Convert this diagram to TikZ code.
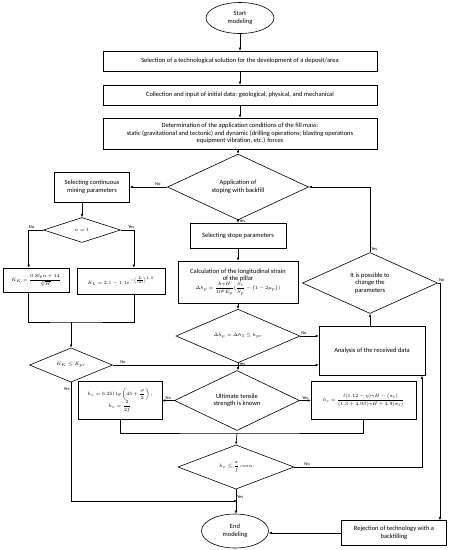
\documentclass[tikz,border=0pt]{standalone}
\usepackage{amsmath}
\usepackage{graphicx}
\usepackage{fontspec}
\setmainfont{Carlito}
\usetikzlibrary{arrows.meta,shapes.geometric}
\newcommand{\smallfnt}{\fontsize{6.5pt}{7.5pt}\selectfont}
\newcommand{\fml}[1]{\scalebox{0.8}{$\displaystyle #1$}}

\begin{document}
\begin{tikzpicture}[>={Latex[length=3pt,width=2.6pt]}, x=1pt, y=-1pt, line width=0.6pt,
    box/.style={draw, rectangle, align=center, inner sep=1pt, font=\smallfnt},
    dec/.style={draw, diamond, align=center, inner sep=0pt, font=\smallfnt},
    term/.style={draw, ellipse, align=center, inner sep=0pt, font=\smallfnt},
    lbl/.style={font=\fontsize{4.5pt}{5pt}\selectfont, inner sep=1pt}]
        \useasboundingbox (0,0) rectangle (450,550);

        % main column
        \node[term, minimum width=68pt, minimum height=31pt] (start) at (240,18) {Start\\modeling};
        \node[box, minimum width=274pt, minimum height=20pt] (select) at (240,61) {Selection of a technological solution for the development of a deposit/area};
        \node[box, minimum width=274pt, minimum height=20pt] (collect) at (240,95) {Collection and input of initial data: geological, physical, and mechanical};
        \node[box, minimum width=274pt, minimum height=31pt] (determ) at (240,133.5) {Determination of the application conditions of the fill mass:\\static (gravitational and tectonic) and dynamic (drilling operations; blasting operations\\equipment vibration, etc.) forces};
        \node[dec, minimum width=141pt, minimum height=48pt] (stoping) at (238,187) {Application of\\stoping with backfill};
        \node[box, minimum width=96pt, minimum height=25pt] (stope) at (238,235.5) {Selecting stope parameters};
        \node[box, minimum width=120pt, minimum height=42pt] (strain) at (238,282) {Calculation of the longitudinal strain\\of the pillar\\
            \fml{\Delta h_p=\frac{h\gamma H}{10^6E_p}(\frac{S_r}{S_p}-\left(1-2\mu_p\right))}};
        \node[dec, minimum width=124pt, minimum height=38pt] (dhcheck) at (238,336) {\fml{\Delta h_p=\Delta h_3\leq h_{pr}}};
        \node[dec, minimum width=125pt, minimum height=47pt] (tensile) at (237,400.5) {Ultimate tensile\\strength is known};
        \node[dec, minimum width=116pt, minimum height=39pt] (hccheck) at (236,467) {\fml{h_c\leq\frac{a}{f}\,cos\alpha}};
        \node[term, minimum width=67pt, minimum height=34pt] (end) at (235,531) {End\\modeling};

        % left branch
        \node[box, minimum width=75pt, minimum height=30pt] (contin) at (92,187) {Selecting continuous\\mining parameters};
        \node[dec, minimum width=77pt, minimum height=25pt] (none) at (82,230) {\fml{n=1}};
        \node[box, minimum width=66pt, minimum height=24pt] (kfirst) at (36,280) {\fml{K_K=\frac{0.8l_b n+14}{\sqrt[3]{H}}}};
        \node[box, minimum width=88pt, minimum height=26pt] (ksecond) at (121,281) {\fml{K_k=2.1-1.1e^{-\left(\frac{L}{50}\right)^{1.5}}}};
        \node[dec, minimum width=83pt, minimum height=30pt] (kcheck) at (71,365) {\fml{K_K\leq K_{pr}}};
        \node[box, minimum width=84pt, minimum height=38pt] (hcleft) at (120,400.5) {\fml{h_c=0.25l\,tg\left(45+\frac{\varphi}{2}\right);}\\[-1pt]\fml{h_c=\frac{2}{2f}}};

        % right branch
        \node[box, minimum width=106pt, minimum height=49pt] (analysis) at (372,351) {Analysis of the received data};
        \node[dec, minimum width=135pt, minimum height=61pt] (change) at (370,283) {It is possible to\\change the\\parameters};
        \node[box, minimum width=105pt, minimum height=38pt] (hcright) at (363.5,400.5) {\fml{h_c=\frac{l(1.12-\eta)\gamma H-(\sigma_t)}{(1.3+4.9\beta)\gamma H+4.9(\sigma_t)}}};
        \node[box, minimum width=105pt, minimum height=25pt] (reject) at (394,533) {Rejection of technology with a\\backfilling};

        \coordinate (mergeK) at (71,322);
        \coordinate (mergeH) at (237,433);
        \coordinate (joinEnd) at (237,501);
        \coordinate (rightrail) at (422,467);
        \coordinate (rejrail) at (440,283);

        \draw[->] (start) -- (select);
        \draw[->] (select) -- (collect);
        \draw[->] (collect) -- (determ);
        \draw[->] (determ.south -| stoping.north) -- (stoping.north);
        \draw[->] (stoping.west) -- node[lbl, above, pos=0.25] (lno1) {No} (stoping.west -| contin.east);
        \draw[->] (stoping.south) -- node[lbl, right, pos=0.35] (lyes1) {Yes} (stoping.south |- stope.north);
        \draw[->] (stope) -- (strain);
        \draw[->] (strain) -- (dhcheck);
        \draw[->] (dhcheck.east) -- node[lbl, above, pos=0.2] (lno2) {No} (dhcheck.east -| analysis.west);
        \draw[->] (dhcheck.south) -- node[lbl, right, pos=0.2] (lyes2) {Yes} (dhcheck.south |- tensile.north);
        \draw[->] (tensile.west) -- node[lbl, above] (lno3) {No} (hcleft.east);
        \draw[->] (tensile.east) -- node[lbl, above] (lyes3) {Yes} (hcright.west);
        \draw (hcleft.south) |- (mergeH) -| (hcright.south);
        \draw[->] (mergeH) -- (hccheck.north);
        \draw[->] (hccheck.east) -- node[lbl, above, pos=0.1] (lno4) {No} (rightrail) -- (rightrail |- analysis.south);
        \draw[->] (hccheck.south) -- node[lbl, right, pos=0.3] (lyes4) {Yes} (hccheck.south |- end.north);

        \draw[->] (contin.south -| none.north) -- (none.north);
        \draw[->] (none.west) -- node[lbl, above, pos=0.8] (lno5) {No} ++(-14.5,0) coordinate (nw) -- (nw |- kfirst.north);
        \draw[->] (none.east) -- node[lbl, above, pos=0.8] (lyes5) {Yes} ++(13,0) coordinate (ne) -- (ne |- ksecond.north);
        \draw (nw |- kfirst.south) |- (mergeK) -| (ne |- ksecond.south);
        \draw[->] (mergeK) -- (kcheck.north);
        \draw[->] (kcheck.east) -- node[lbl, above, pos=0.03, anchor=south west] (lno6) {No} (kcheck.east -| analysis.west);
        \draw[->] (kcheck.south) |- node[lbl, left, pos=0.03] (lyes6) {Yes} (joinEnd);

        \draw[->] (analysis.north -| change.south) -- (change.south);
        \draw[->] (change.north) |- node[lbl, above right, pos=0] (lyes7) {Yes} (stoping.east);
        \draw[->] (change.east) -- node[lbl, above right, pos=0] (lno7) {No} (rejrail) -- (rejrail |- reject.north);
        \draw[->] (reject.west) -- (reject.west -| end.east);
    \end{tikzpicture}
\end{document}
